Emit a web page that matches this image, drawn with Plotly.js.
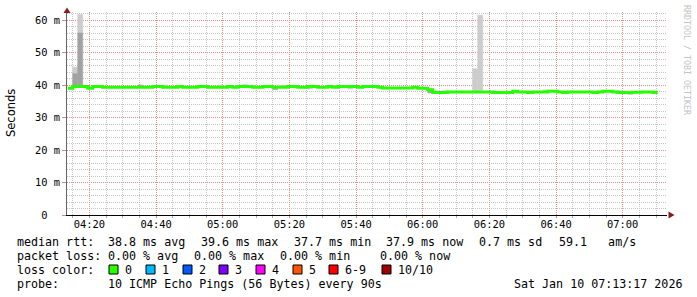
<!DOCTYPE html>
<html>
<head>
<meta charset="utf-8">
<script src="https://cdn.plot.ly/plotly-3.0.1.min.js"></script>
<style>
html,body{margin:0;padding:0;background:#fff;}
#chart{width:697px;height:297px;}
</style>
</head>
<body>
<div id="chart"></div>
<script>
// ---------- DATA ----------
// first 90 s step begins 04:13:30, one value per 90 s step (ms)
const stepStart = Date.UTC(2026, 0, 10, 4, 13, 30);
const stepSeconds = 90;
const medianRtt = [
  39.0,
  39.6, 39.6, 39.6,
  39.0,
  39.6, 39.6,
  39.3, 39.3, 39.3, 39.3, 39.3, 39.3, 39.3, 39.3, 39.3, 39.3,
  39.6, 39.6,
  39.3, 39.3, 39.3,
  39.6,
  39.3, 39.3, 39.3,
  39.6, 39.6,
  39.3, 39.3, 39.3, 39.3,
  39.6,
  39.3,
  39.6, 39.6, 39.6,
  39.3, 39.3,
  39.6, 39.6,
  39.3, 39.3, 39.3,
  39.6, 39.6,
  39.3, 39.3,
  39.6, 39.6,
  39.3, 39.3,
  39.6,
  39.3,
  39.6, 39.6, 39.6, 39.6,
  39.3,
  39.6, 39.6, 39.6,
  39.3,
  39.1, 39.1, 39.1, 39.1, 39.1, 39.1,
  39.3,
  39.0, 39.0,
  38.6,
  37.7, 37.7, 37.7,
  37.9, 37.9, 37.9, 37.9, 37.9, 37.9, 37.9, 37.9, 37.9,
  37.7, 37.7, 37.7, 37.7,
  38.1,
  37.9, 37.9,
  37.7,
  37.9, 37.9, 37.9,
  38.1, 38.1,
  37.9,
  37.7,
  37.9, 37.9, 37.9, 37.9, 37.9,
  37.7,
  37.9,
  38.1, 38.1,
  37.9,
  37.7, 37.7, 37.7,
  37.8, 37.8,
  37.9, 37.9,
  37.7
];
// smoke (spread of the 10 pings) where it shows beyond the median line
const lightSmokeSteps = [1, 2, 19, 30, 35, 42, 43, 48, 56, 75, 81, 82, 95, 110, 112];
const lightSmokeLow   = [43.5, 56.0, 39.3, 39.3, 39.6, 39.3, 39.3, 38.8, 38.8, 37.7, 37.9, 37.9, 37.9, 37.7, 37.1];
const lightSmokeHigh  = [45.5, 61.7, 40.0, 40.0, 40.2, 40.0, 40.0, 39.6, 39.6, 38.4, 45.0, 61.5, 38.5, 38.3, 37.7];
const darkSmokeSteps = [1, 2, 14, 41, 72];
const darkSmokeLow   = [39.3, 39.3, 39.3, 38.6, 37.6];
const darkSmokeHigh  = [43.5, 56.0, 40.0, 39.3, 38.6];

const yTickVals = [0, 10, 20, 30, 40, 50, 60];
const yTickText = ['0\u00a0\u00a0', '10 m', '20 m', '30 m', '40 m', '50 m', '60 m'];
const yMinorVals = [2, 4, 6, 8, 12, 14, 16, 18, 22, 24, 26, 28, 32, 34, 36, 38, 42, 44, 46, 48, 52, 54, 56, 58, 62];

const rttValues = [38.8, 39.6, 37.7, 37.9];
const rttLabels = ['avg', 'max', 'min', 'now'];
const rttSd = 0.7;
const rttAmps = 59.1;
const lossValues = [0.00, 0.00, 0.00, 0.00];
const lossLabels = ['avg', 'max', 'min', 'now'];
const lossColorLabels = ['0', '1', '2', '3', '4', '5', '6-9', '10/10'];
const lossColors = ['#26ff00', '#00b8ff', '#0059ff', '#7e00ff', '#ff00ff', '#ff5500', '#ff0000', '#a00000'];
const probeText = '10 ICMP Echo Pings (56 Bytes) every 90s';
const stampText = 'Sat Jan 10 07:13:17 2026';

// ---------- BUILD ----------
const stepMs = stepSeconds * 1000;
const tStart = i => stepStart + i * stepMs;
const lineX = medianRtt.map((v, i) => tStart(i));
lineX.push(tStart(medianRtt.length));
const lineY = medianRtt.slice();
lineY.push(medianRtt[medianRtt.length - 1]);

const lightC = '#cccccc', darkC = '#a2a2a2';
const traces = [
  {
    type: 'bar',
    x: lightSmokeSteps.map(i => tStart(i) + stepMs / 2),
    base: lightSmokeLow,
    y: lightSmokeHigh.map((h, k) => h - lightSmokeLow[k]),
    width: stepMs,
    marker: {color: lightC, line: {color: lightC, width: 0.6}},
    hoverinfo: 'skip', showlegend: false
  },
  {
    type: 'bar',
    x: darkSmokeSteps.map(i => tStart(i) + stepMs / 2),
    base: darkSmokeLow,
    y: darkSmokeHigh.map((h, k) => h - darkSmokeLow[k]),
    width: stepMs,
    marker: {color: darkC, line: {color: darkC, width: 0.6}},
    hoverinfo: 'skip', showlegend: false
  },
  {
    type: 'scatter', mode: 'lines',
    x: lineX, y: lineY,
    line: {color: '#26ff00', width: 3, shape: 'hv'},
    hoverinfo: 'skip', showlegend: false
  }
];

// pixel helpers for the legend area (plot area: x 67..667, y 12..215)
const W = 697, H = 297, L = 67, R = 667, T = 12, B = 215;
const px = x => (x - L) / (R - L);
const py = y => (B - y) / (B - T);

const mono = 'DejaVu Sans Mono';
const fs = 11.67;
const ann = [];
function txt(x, y, s) {
  ann.push({xref: 'paper', yref: 'paper', x: px(x - 1), y: py(y), xanchor: 'left', yanchor: 'middle',
    text: s.replace(/ /g, '\u00a0'), showarrow: false, font: {family: mono, size: fs, color: '#000'}});
}
const row = [241.5, 255.5, 269.5, 283.5];
txt(16, row[0], 'median rtt:');
const rttX = [107, 200, 293, 385];
rttValues.forEach((v, k) => txt(rttX[k], row[0], v.toFixed(1) + ' ms ' + rttLabels[k]));
txt(478, row[0], rttSd.toFixed(1) + ' ms sd');
txt(558, row[0], rttAmps.toFixed(1) + '   am/s');
txt(16, row[1], 'packet loss:');
const lossX = [107, 193, 279, 379];
lossValues.forEach((v, k) => txt(lossX[k], row[1], v.toFixed(2) + ' % ' + lossLabels[k]));
txt(16, row[2], 'loss color:');
const boxX = [109, 146, 183, 219, 256, 293, 329, 382];
const shapes = [];
lossColorLabels.forEach((lab, k) => {
  shapes.push({type: 'rect', xref: 'paper', yref: 'paper',
    x0: px(boxX[k]), x1: px(boxX[k] + 9), y0: py(265), y1: py(274),
    fillcolor: lossColors[k], line: {color: '#000', width: 1}});
  txt(boxX[k] + 15, row[2], lab);
});
txt(16, row[3], 'probe:');
txt(107, row[3], probeText);
txt(513, row[3], stampText);

// axis title & watermark
ann.push({xref: 'paper', yref: 'paper', x: px(11), y: py(113), xanchor: 'center', yanchor: 'middle',
  text: 'Seconds', textangle: -90, showarrow: false, font: {family: 'DejaVu Sans', size: 11.5, color: '#000'}});
ann.push({xref: 'paper', yref: 'paper', x: px(687), y: py(60), xanchor: 'center', yanchor: 'middle',
  text: 'RRDTOOL / TOBI OETIKER', textangle: 90, showarrow: false, font: {family: mono, size: 8.3, color: '#c4c4c4'}});

// axis arrows
shapes.push({type: 'path', xref: 'paper', yref: 'paper',
  path: `M ${px(67)},${py(7.5)} L ${px(63.5)},${py(13)} L ${px(70.5)},${py(13)} Z`,
  fillcolor: '#8b1a1a', line: {width: 0}});
shapes.push({type: 'path', xref: 'paper', yref: 'paper',
  path: `M ${px(674.5)},${py(215)} L ${px(668.5)},${py(211.5)} L ${px(668.5)},${py(218.5)} Z`,
  fillcolor: '#8b1a1a', line: {width: 0}});

const majorGrid = '#e09090', minorGrid = '#c6c6c6';
const layout = {
  width: W, height: H,
  margin: {l: L, r: W - R, t: T, b: H - B, pad: 0},
  paper_bgcolor: '#ffffff', plot_bgcolor: '#ffffff',
  barmode: 'overlay', bargap: 0,
  showlegend: false,
  xaxis: {
    type: 'date',
    range: [Date.UTC(2026, 0, 10, 4, 13, 17), Date.UTC(2026, 0, 10, 7, 13, 17)],
    tickmode: 'linear', tick0: Date.UTC(2026, 0, 10, 4, 0, 0), dtick: 20 * 60 * 1000,
    tickformat: '%H:%M',
    showgrid: true, gridcolor: majorGrid, gridwidth: 1, griddash: '1px,1px',
    minor: {tickmode: 'linear', tick0: Date.UTC(2026, 0, 10, 4, 0, 0), dtick: 5 * 60 * 1000,
      showgrid: true, gridcolor: minorGrid, gridwidth: 1, griddash: '1px,1px',
      ticks: 'outside', ticklen: 2, tickcolor: '#aaaaaa'},
    ticks: 'outside', ticklen: 2, tickcolor: '#d08a8a',
    ticklabelstandoff: -2,
    showline: true, linecolor: '#000', linewidth: 1,
    zeroline: false,
    tickfont: {family: mono, size: 10.4, color: '#000'},
    fixedrange: true
  },
  yaxis: {
    range: [0, 62.5],
    tickmode: 'array', tickvals: yTickVals, ticktext: yTickText,
    showgrid: true, gridcolor: majorGrid, gridwidth: 1, griddash: '1px,1px',
    minor: {tickmode: 'array', tickvals: yMinorVals,
      showgrid: true, gridcolor: minorGrid, gridwidth: 1, griddash: '1px,1px'},
    ticks: 'outside', ticklen: 4, tickcolor: '#d08a8a',
    showline: true, linecolor: '#666', linewidth: 1,
    zeroline: false,
    tickfont: {family: mono, size: 10.4, color: '#000'},
    fixedrange: true
  },
  annotations: ann,
  shapes: shapes
};

Plotly.newPlot('chart', traces, layout, {staticPlot: true, displayModeBar: false});
</script>
</body>
</html>
